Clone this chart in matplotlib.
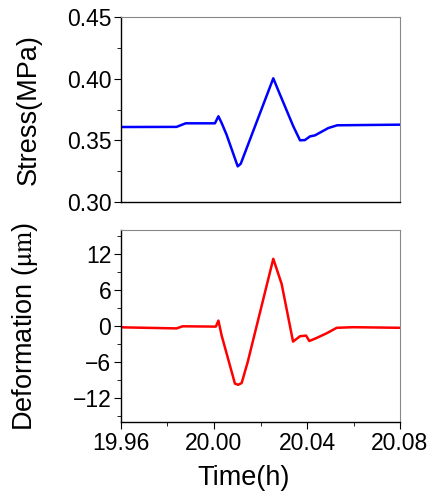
import matplotlib
matplotlib.use("Agg")
import matplotlib.pyplot as plt

plt.rcParams['font.family'] = ['Liberation Sans', 'DejaVu Sans']
plt.rcParams['mathtext.fontset'] = 'stix'

# stress trace
stress_t = [19.96, 19.9839, 19.9878, 20.0004, 20.0019, 20.0033, 20.0054, 20.0102,
            20.0115, 20.0255, 20.0281, 20.0341, 20.0370, 20.0391, 20.0413, 20.0434,
            20.0492, 20.0530, 20.08]
stress = [0.3608, 0.3609, 0.3638, 0.3638, 0.3695, 0.3640, 0.3546, 0.3289,
          0.3310, 0.4003, 0.3884, 0.3614, 0.3500, 0.3502, 0.3532, 0.3540,
          0.3600, 0.3622, 0.3627]

# deformation trace
def_t = [19.96, 19.9839, 19.9865, 20.0008, 20.0019, 20.0033, 20.0090,
         20.0104, 20.0119, 20.0145, 20.0255, 20.0291, 20.0340, 20.0370, 20.0396,
         20.0410, 20.0441, 20.0485, 20.0528, 20.0598, 20.08]
deform = [-0.22, -0.40, -0.05, -0.1, 0.9, -1.6, -9.6,
          -9.8, -9.5, -6.0, 11.2, 7.0, -2.6, -1.7, -1.6,
          -2.5, -2.0, -1.2, -0.3, -0.2, -0.3]

time_ticks = [19.96, 20.00, 20.04, 20.08]
time_labels = ['19.96', '20.00', '20.04', '20.08']
time_minor = [19.98, 20.02, 20.06]
stress_ticks = [0.30, 0.35, 0.40, 0.45]
stress_minor = [0.325, 0.375, 0.425]
def_ticks = [-12, -6, 0, 6, 12]
def_minor = [-15, -9, -3, 3, 9, 15]

fig = plt.figure(figsize=(4.36, 4.97), dpi=100)
ax1 = fig.add_axes([121/436, 1 - 202/497, 279/436, 185/497])
ax2 = fig.add_axes([121/436, 1 - 422/497, 279/436, 192/497])

ax1.plot(stress_t, stress, color='#0000ff', lw=1.8)
ax2.plot(def_t, deform, color='#ff0000', lw=1.8)

for ax in (ax1, ax2):
    ax.set_xlim(19.96, 20.08)
    ax.set_xticks(time_ticks)
    ax.set_xticks(time_minor, minor=True)
    for s in ('top', 'right'):
        ax.spines[s].set_color('#888888')
        ax.spines[s].set_linewidth(0.8)
    for s in ('left', 'bottom'):
        ax.spines[s].set_linewidth(1.0)
    ax.tick_params(which='both', direction='out', labelsize=16.5, top=False, right=False)
    ax.tick_params(which='major', length=5, pad=2)
    ax.tick_params(which='minor', length=3)

ax1.set_ylim(0.30, 0.45)
ax1.set_yticks(stress_ticks)
ax1.set_yticklabels(['%.2f' % v for v in stress_ticks])
ax1.set_yticks(stress_minor, minor=True)
ax1.tick_params(axis='x', which='both', bottom=False, labelbottom=False)
ax1.set_ylabel('Stress(MPa)', fontsize=19.5)

ax2.set_ylim(-16, 16)
ax2.set_yticks(def_ticks)
ax2.set_yticks(def_minor, minor=True)
ax2.set_xticklabels(time_labels)
ax2.set_ylabel(r'Deformation ($\mathrm{\mu m}$)', fontsize=19.5)
ax2.set_xlabel('Time(h)', fontsize=19.5)

ax1.yaxis.set_label_coords(-0.283, 0.5)
ax2.yaxis.set_label_coords(-0.29, 0.5)
ax2.xaxis.set_label_coords(0.44, -0.225)

fig.savefig('out.png', dpi=100)
